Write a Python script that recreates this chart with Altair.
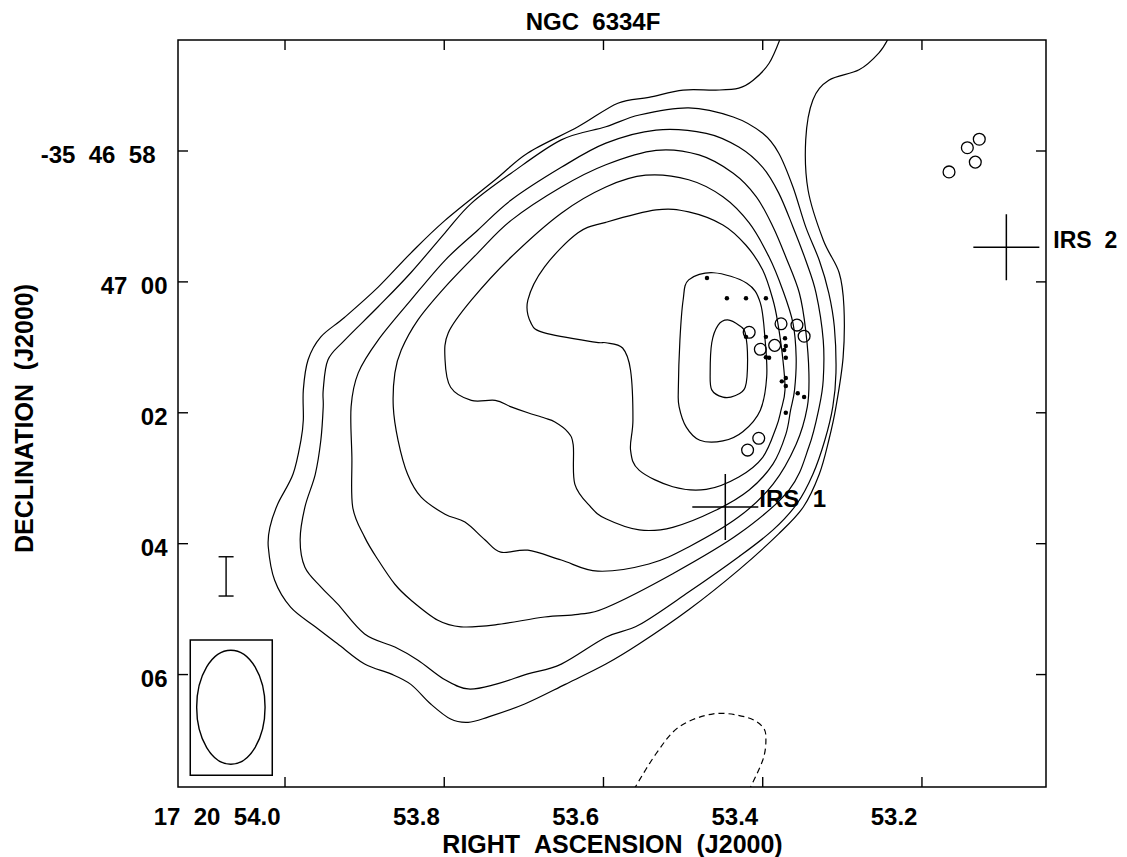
import altair as alt
import pandas as pd

FONT = "Liberation Sans"
NB = "\u00a0"

# plot window (RA seconds of 17h20m, Dec arcsec past -35d46')
RA_MIN, RA_MAX = 53.0442, 54.1344
DEC_MIN, DEC_MAX = 56.304, 67.718

X_TICKS = [54.0, 53.8, 53.6, 53.4, 53.2]
Y_TICKS = [58, 60, 62, 64, 66]

TITLE = "NGC" + NB + NB + "6334F"

# contour levels (outermost first)
L1_RA = [53.377, 53.392, 53.412, 53.430, 53.459, 53.500, 53.543, 53.582, 53.632, 53.695, 53.736, 53.799, 53.842, 53.883, 53.925, 53.955, 53.971, 53.977, 53.977, 53.980, 53.990, 54.009, 54.019, 54.021, 54.013, 53.993, 53.962, 53.934, 53.900, 53.867, 53.842, 53.817, 53.792, 53.770, 53.745, 53.699, 53.648, 53.597, 53.555, 53.493, 53.430, 53.380, 53.349, 53.329, 53.317, 53.308, 53.299, 53.298, 53.304, 53.324, 53.343, 53.346, 53.337, 53.317, 53.279, 53.254, 53.241]
L1_DEC = [56.25, 56.66, 56.92, 57.04, 57.07, 57.07, 57.18, 57.27, 57.63, 58.03, 58.44, 59.06, 59.56, 60.08, 60.54, 60.84, 61.19, 61.65, 62.11, 62.42, 62.94, 63.39, 63.75, 64.05, 64.56, 64.97, 65.27, 65.53, 65.84, 65.99, 66.15, 66.45, 66.68, 66.73, 66.65, 66.45, 66.15, 65.84, 65.53, 65.01, 64.40, 63.85, 63.44, 62.94, 62.42, 61.91, 61.15, 60.38, 59.86, 59.36, 58.60, 57.83, 57.22, 56.92, 56.76, 56.50, 56.25]

L2_RA = [53.597, 53.555, 53.493, 53.437, 53.400, 53.380, 53.362, 53.346, 53.329, 53.317, 53.310, 53.308, 53.312, 53.322, 53.337, 53.357, 53.387, 53.430, 53.493, 53.555, 53.597, 53.653, 53.695, 53.736, 53.770, 53.799, 53.833, 53.862, 53.900, 53.934, 53.955, 53.975, 53.981, 53.975, 53.962, 53.955, 53.952, 53.952, 53.946, 53.925, 53.883, 53.842, 53.799, 53.766, 53.716, 53.653]
L2_DEC = [57.63, 57.45, 57.34, 57.48, 57.73, 58.03, 58.55, 59.16, 59.67, 60.17, 60.69, 61.39, 61.91, 62.42, 62.94, 63.39, 63.79, 64.20, 64.74, 65.24, 65.43, 65.84, 65.99, 66.15, 66.22, 66.08, 65.78, 65.58, 65.38, 64.92, 64.66, 64.36, 63.94, 63.44, 62.94, 62.42, 61.91, 61.65, 61.19, 60.89, 60.38, 59.86, 59.25, 58.80, 58.34, 57.83]

L3_RA = [53.597, 53.534, 53.471, 53.430, 53.400, 53.380, 53.362, 53.346, 53.333, 53.324, 53.324, 53.329, 53.342, 53.367, 53.430, 53.513, 53.597, 53.632, 53.674, 53.736, 53.779, 53.808, 53.842, 53.862, 53.883, 53.900, 53.915, 53.916, 53.917, 53.908, 53.883, 53.842, 53.799, 53.758, 53.716, 53.653]
L3_DEC = [57.88, 57.68, 57.73, 57.94, 58.25, 58.64, 59.16, 59.67, 60.17, 60.89, 61.50, 61.91, 62.52, 63.18, 63.85, 64.46, 64.98, 65.08, 65.12, 65.24, 65.27, 65.17, 64.86, 64.62, 64.25, 63.90, 63.44, 62.68, 61.91, 61.39, 60.89, 60.28, 59.67, 59.21, 58.75, 58.25]

L4_RA = [53.597, 53.534, 53.480, 53.437, 53.408, 53.387, 53.371, 53.354, 53.346, 53.342, 53.344, 53.358, 53.387, 53.430, 53.493, 53.543, 53.607, 53.653, 53.695, 53.729, 53.749, 53.774, 53.799, 53.829, 53.846, 53.858, 53.864, 53.862, 53.854, 53.833, 53.799, 53.758, 53.716, 53.653]
L4_DEC = [58.21, 57.99, 58.06, 58.34, 58.70, 59.16, 59.62, 60.17, 60.74, 61.39, 61.91, 62.48, 63.09, 63.59, 64.05, 64.31, 64.42, 64.25, 64.10, 64.13, 63.94, 63.67, 63.55, 63.29, 62.94, 62.42, 61.91, 61.39, 61.04, 60.58, 60.08, 59.56, 59.06, 58.55]

L5_RA = [53.597, 53.547, 53.493, 53.450, 53.417, 53.392, 53.375, 53.362, 53.358, 53.360, 53.365, 53.371, 53.387, 53.417, 53.459, 53.513, 53.555, 53.597, 53.616, 53.636, 53.638, 53.645, 53.661, 53.674, 53.695, 53.716, 53.736, 53.766, 53.792, 53.799, 53.795, 53.766, 53.716, 53.653]
L5_DEC = [58.55, 58.37, 58.44, 58.70, 59.10, 59.62, 60.12, 60.63, 61.15, 61.65, 61.96, 62.33, 62.78, 63.18, 63.49, 63.75, 63.79, 63.62, 63.44, 63.09, 62.49, 62.29, 62.14, 62.08, 62.00, 61.91, 61.81, 61.81, 61.61, 61.19, 60.78, 60.28, 59.62, 58.95]

L6_RA = [53.597, 53.534, 53.493, 53.450, 53.421, 53.400, 53.387, 53.381, 53.375, 53.372, 53.377, 53.383, 53.400, 53.430, 53.471, 53.513, 53.555, 53.566, 53.563, 53.566, 53.576, 53.597, 53.611, 53.674, 53.691, 53.695, 53.674, 53.632]
L6_DEC = [59.09, 58.90, 58.93, 59.13, 59.44, 59.82, 60.28, 60.63, 61.15, 61.65, 61.96, 62.22, 62.68, 62.98, 63.17, 63.13, 62.88, 62.57, 62.11, 61.35, 61.01, 60.93, 60.92, 60.78, 60.63, 60.28, 59.77, 59.25]

L7_RA = [53.462, 53.420, 53.403, 53.397, 53.395, 53.403, 53.425, 53.450, 53.479, 53.496, 53.505, 53.506, 53.504, 53.500, 53.493]
L7_DEC = [59.86, 60.02, 60.32, 60.89, 61.45, 61.96, 62.29, 62.43, 62.42, 62.22, 61.91, 61.65, 60.89, 60.28, 59.97]

L8_RA = [53.444, 53.429, 53.422, 53.419, 53.422, 53.435, 53.450, 53.464, 53.466, 53.464, 53.456]
L8_DEC = [60.58, 60.67, 60.78, 61.19, 61.61, 61.74, 61.76, 61.65, 61.39, 60.93, 60.66]

NEG_RA = [53.562, 53.534, 53.505, 53.462, 53.421, 53.400, 53.396, 53.400, 53.417]
NEG_DEC = [67.76, 67.21, 66.80, 66.60, 66.65, 66.80, 67.00, 67.31, 67.76]

CIRC_RA = [53.128, 53.143, 53.133, 53.166, 53.417, 53.403, 53.385, 53.377, 53.357, 53.348, 53.405, 53.419]
CIRC_DEC = [57.82, 57.95, 58.17, 58.32, 60.77, 61.03, 60.97, 60.64, 60.66, 60.83, 62.39, 62.57]

DOT_RA = [53.470, 53.445, 53.421, 53.396, 53.421, 53.396, 53.372, 53.371, 53.373, 53.396, 53.392, 53.371, 53.376, 53.371, 53.371, 53.356, 53.348, 53.371]
DOT_DEC = [59.94, 60.25, 60.25, 60.25, 60.84, 60.84, 60.86, 60.98, 61.04, 61.15, 61.16, 61.16, 61.52, 61.47, 61.59, 61.70, 61.76, 62.00]

IRS_NAMES = ["IRS" + NB + NB + "1", "IRS" + NB + NB + "2"]
IRS_RA = [53.447, 53.094]
IRS_DEC = [63.44, 59.47]

ERR_RA = [54.074]
ERR_LO = [64.20]
ERR_HI = [64.80]

BEAM_BOX_RA = [54.119, 54.016]
BEAM_BOX_DEC = [65.47, 67.54]
BEAM_RA = [54.068]
BEAM_DEC = [66.50]


def contour_frame(levels):
    rows = []
    for name, ras, decs in levels:
        for i, (r, d) in enumerate(zip(ras, decs)):
            rows.append({"lev": name, "i": i, "ra": r, "dec": d})
    return pd.DataFrame(rows)


closed_df = contour_frame([
    ("L2", L2_RA, L2_DEC), ("L3", L3_RA, L3_DEC), ("L4", L4_RA, L4_DEC),
    ("L5", L5_RA, L5_DEC), ("L6", L6_RA, L6_DEC), ("L7", L7_RA, L7_DEC),
    ("L8", L8_RA, L8_DEC)])
open_df = contour_frame([("L1", L1_RA, L1_DEC)])
neg_df = contour_frame([("N1", NEG_RA, NEG_DEC)])

xs = alt.Scale(domain=[RA_MIN, RA_MAX], reverse=True, nice=False, zero=False)
ys = alt.Scale(domain=[DEC_MIN, DEC_MAX], reverse=True, nice=False, zero=False)

x_label_expr = ("datum.value > 53.99 ? '17" + NB + NB + "20" + NB + NB + "54.0' : format(datum.value, '.1f')")
y_label_expr = ("datum.value < 59 ? '-35" + NB + NB + "46" + NB + NB + "58' : datum.value < 61 ? '47" + NB + NB +
                "00' : datum.value < 63 ? '02' : datum.value < 65 ? '04' : '06'")

x_axis = alt.Axis(values=X_TICKS, labelExpr=x_label_expr, ticks=False, domain=False, grid=False,
                  labelFont=FONT, labelFontSize=24, labelFontWeight="bold", labelColor="black",
                  labelAlign="right", labelBaseline="top", labelPadding=18, labelOffset=-5,
                  labelFlush=False, labelOverlap=False,
                  title="RIGHT" + NB + NB + "ASCENSION" + NB + NB + "(J2000)", titleFont=FONT,
                  titleFontSize=25, titleFontWeight="bold", titleColor="black",
                  titleX=434, titleY=65, titleBaseline="alphabetic", titleAlign="center")
y_axis = alt.Axis(values=Y_TICKS, labelExpr=y_label_expr, ticks=False, domain=False, grid=False,
                  labelFont=FONT, labelFontSize=24, labelFontWeight="bold", labelColor="black",
                  labelAlign="right", labelBaseline="middle",
                  labelPadding={"condition": {"test": "datum.value < 59", "value": 23}, "value": 11},
                  labelOffset=5,
                  labelFlush=False, labelOverlap=False,
                  title="DECLINATION" + NB + NB + "(J2000)", titleFont=FONT, titleFontSize=25,
                  titleFontWeight="bold", titleColor="black", titleAngle=270,
                  titleX=-146, titleY=378, titleBaseline="alphabetic", titleAlign="center")


def X(f="ra"):
    return alt.X(f + ":Q", scale=xs)


def Y(f="dec"):
    return alt.Y(f + ":Q", scale=ys)


closed = alt.Chart(closed_df).mark_line(interpolate="cardinal-closed", color="black",
                                        strokeWidth=1.2, clip=True).encode(
    x=alt.X("ra:Q", scale=xs, axis=x_axis),
    y=alt.Y("dec:Q", scale=ys, axis=y_axis),
    detail="lev:N", order="i:Q")

opened = alt.Chart(open_df).mark_line(interpolate="cardinal", color="black", strokeWidth=1.2,
                                      clip=True).encode(x=X(), y=Y(), detail="lev:N", order="i:Q")

negative = alt.Chart(neg_df).mark_line(interpolate="cardinal", color="black", strokeWidth=1.2,
                                       strokeDash=[6, 4], clip=True).encode(
    x=X(), y=Y(), detail="lev:N", order="i:Q")

tick_x_df = pd.DataFrame({"ra": X_TICKS * 2, "dec": [DEC_MAX] * len(X_TICKS) + [DEC_MIN] * len(X_TICKS)})
tick_y_df = pd.DataFrame({"ra": [RA_MAX] * len(Y_TICKS) + [RA_MIN] * len(Y_TICKS), "dec": Y_TICKS * 2})
ticks_x = alt.Chart(tick_x_df).mark_tick(orient="vertical", size=20, thickness=1.4, color="black",
                                         opacity=1, clip=True).encode(x=X(), y=Y())
ticks_y = alt.Chart(tick_y_df).mark_tick(orient="horizontal", size=20, thickness=1.4, color="black",
                                         opacity=1, clip=True).encode(x=X(), y=Y())

circ_df = pd.DataFrame({"ra": CIRC_RA, "dec": CIRC_DEC})
circles = alt.Chart(circ_df).mark_point(shape="circle", filled=False, size=140, color="black",
                                        strokeWidth=1.3, opacity=1).encode(x=X(), y=Y())
dot_df = pd.DataFrame({"ra": DOT_RA, "dec": DOT_DEC})
dots = alt.Chart(dot_df).mark_circle(size=20, color="black", opacity=1).encode(x=X(), y=Y())

irs_df = pd.DataFrame({"name": IRS_NAMES, "ra": IRS_RA, "dec": IRS_DEC})
crosses = alt.Chart(irs_df).mark_point(shape="M -1 0 L 1 0 M 0 -1 L 0 1", size=4356, filled=False,
                                       color="black", strokeWidth=1.5, opacity=1).encode(x=X(), y=Y())
lab1 = alt.Chart(irs_df.iloc[[0]]).mark_text(align="left", baseline="alphabetic", dx=34, dy=0,
                                             font=FONT, fontSize=24, fontWeight="bold",
                                             color="black").encode(x=X(), y=Y(), text="name:N")
lab2 = alt.Chart(irs_df.iloc[[1]]).mark_text(align="left", baseline="alphabetic", dx=47, dy=1,
                                             font=FONT, fontSize=23, fontWeight="bold",
                                             color="black").encode(x=X(), y=Y(), text="name:N")

err_df = pd.DataFrame({"ra": ERR_RA, "lo": ERR_LO, "hi": ERR_HI})
err_rule = alt.Chart(err_df).mark_rule(color="black", strokeWidth=1.4).encode(
    x=X(), y=Y("lo"), y2="hi:Q")
err_caps_df = pd.DataFrame({"ra": ERR_RA * 2, "dec": ERR_LO + ERR_HI})
err_caps = alt.Chart(err_caps_df).mark_tick(orient="horizontal", size=15, thickness=1.4,
                                            color="black", opacity=1).encode(x=X(), y=Y())

box_df = pd.DataFrame({"ra": [BEAM_BOX_RA[0]], "ra2": [BEAM_BOX_RA[1]],
                       "dec": [BEAM_BOX_DEC[0]], "dec2": [BEAM_BOX_DEC[1]]})
beam_box = alt.Chart(box_df).mark_rect(fillOpacity=0, stroke="black", strokeWidth=1.5).encode(
    x=X(), x2="ra2:Q", y=Y(), y2="dec2:Q")
beam_df = pd.DataFrame({"ra": BEAM_RA, "dec": BEAM_DEC})
beam = alt.Chart(beam_df).mark_point(
    shape="M -0.6 0 A 0.6 1 0 1 1 0.6 0 A 0.6 1 0 1 1 -0.6 0 Z", size=12996, filled=False,
    color="black", strokeWidth=1.4, opacity=1).encode(x=X(), y=Y())

title_df = pd.DataFrame({"t": [TITLE]})
title = alt.Chart(title_df).mark_text(align="center", baseline="alphabetic", font=FONT, fontSize=24,
                                      fontWeight="bold", color="black").encode(
    x=alt.value(415), y=alt.value(-10), text="t:N")

chart = alt.layer(
    closed, opened, negative, ticks_x, ticks_y, circles, dots, crosses, lab1, lab2,
    err_rule, err_caps, beam_box, beam, title
).properties(
    width=868, height=747,
    autosize=alt.AutoSizeParams(type="none"),
    padding={"left": 170, "top": 32, "right": 73, "bottom": 70},
    background="white",
).configure_view(stroke="black", strokeWidth=1.5).configure_axis(grid=False, ticks=False, domain=False)

chart.save("out.html", embed_options={"renderer": "svg", "actions": False})
